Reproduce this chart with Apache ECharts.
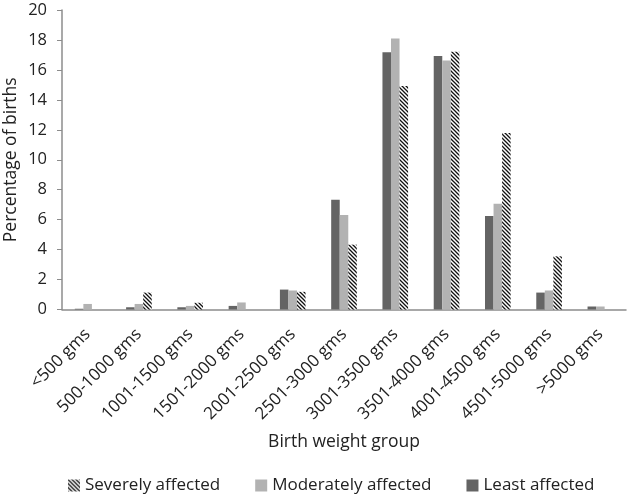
<!DOCTYPE html>
<html><head><meta charset="utf-8">
<script src="https://cdn.jsdelivr.net/npm/echarts@6/dist/echarts.min.js"></script>
<style>html,body{margin:0;padding:0;background:#fff}#c{width:627px;height:494px}</style>
</head><body><div id="c"></div>
<script>
var categories = ['<500 gms','500-1000 gms','1001-1500 gms','1501-2000 gms','2001-2500 gms','2501-3000 gms','3001-3500 gms','3501-4000 gms','4001-4500 gms','4501-5000 gms','>5000 gms'];
var leastAffected = [0.05,0.15,0.15,0.24,1.33,7.33,17.18,16.93,6.24,1.13,0.2];
var moderatelyAffected = [0.37,0.37,0.24,0.47,1.27,6.31,18.1,16.62,7.07,1.27,0.2];
var severelyAffected = [0,1.13,0.45,0,1.18,4.33,14.93,17.22,11.78,3.55,0];
var yTicks = [0,2,4,6,8,10,12,14,16,18,20];

var pc = document.createElement('canvas');
pc.width = 4; pc.height = 4;
var g = pc.getContext('2d');
g.fillStyle = '#fff'; g.fillRect(0,0,4,4);
g.strokeStyle = '#111'; g.lineWidth = 1.3;
g.beginPath();
g.moveTo(-1,-1); g.lineTo(5,5);
g.moveTo(-1,3); g.lineTo(1,5);
g.moveTo(3,-1); g.lineTo(5,1);
g.stroke();
var hatch = {image: pc, repeat: 'repeat'};

var font = '"Open Sans", sans-serif';
var chart = echarts.init(document.getElementById('c'), null, {renderer:'canvas'});
chart.setOption({
  animation: false,
  textStyle: {fontFamily: font},
  grid: {left: 62, right: 1, top: 10, bottom: 184.5, containLabel: false, outerBoundsMode: 'none'},
  legend: {
    data: ['Severely affected','Moderately affected','Least affected'],
    top: 472, left: 63, itemWidth: 12, itemHeight: 12, itemGap: 35,
    icon: 'rect',
    textStyle: {fontSize: 17, color: '#222', fontFamily: font}
  },
  xAxis: {
    type: 'category', data: categories,
    name: 'Birth weight group', nameLocation: 'middle', nameGap: 124, nameMoveOverlap: false,
    nameTextStyle: {fontSize: 17.5, color: '#222'},
    axisLine: {lineStyle: {color: '#8c8c8c', width: 1.5}},
    axisTick: {show: false},
    axisLabel: {rotate: 45, fontSize: 17, color: '#222', interval: 0, margin: 22}
  },
  yAxis: {
    type: 'value', min: 0, max: 20, interval: 2,
    name: 'Percentage of births', nameLocation: 'middle', nameGap: 42, nameMoveOverlap: false,
    nameTextStyle: {fontSize: 17.5, color: '#222'},
    axisLine: {show: true, lineStyle: {color: '#8c8c8c', width: 1.5}},
    axisTick: {show: true, length: 5, lineStyle: {color: '#8c8c8c'}},
    splitLine: {show: false},
    axisLabel: {fontSize: 16.5, color: '#222', margin: 15,
      formatter: function(v){ return yTicks.indexOf(v) >= 0 ? String(v) : ''; }}
  },
  series: [
    {name: 'Least affected', type: 'bar', data: leastAffected, barGap: '0%', barCategoryGap: '50%', itemStyle: {color: '#646464'}},
    {name: 'Moderately affected', type: 'bar', data: moderatelyAffected, itemStyle: {color: '#b2b2b2'}},
    {name: 'Severely affected', type: 'bar', data: severelyAffected, itemStyle: {color: hatch}}
  ]
});
</script></body></html>
